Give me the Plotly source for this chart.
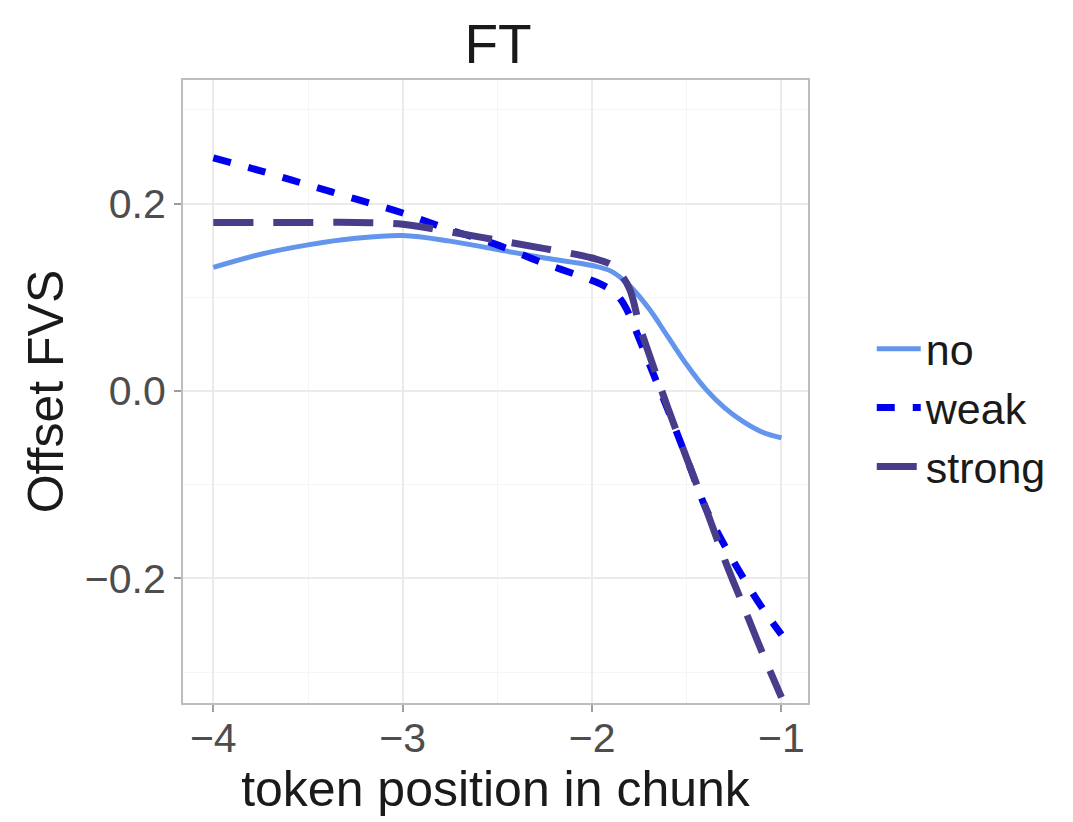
import plotly.graph_objects as go

# values
x_no = [-4.0, -3.75, -3.5, -3.25, -3.0, -2.75, -2.5, -2.25, -2.0, -1.9, -1.8, -1.7, -1.6, -1.5, -1.4, -1.3, -1.2, -1.1, -1.0]
y_no = [0.132, 0.146, 0.156, 0.163, 0.166, 0.160, 0.151, 0.142, 0.134, 0.128, 0.112, 0.088, 0.058, 0.028, 0.002, -0.018, -0.033, -0.044, -0.050]

x_weak = [-4.0, -3.75, -3.5, -3.25, -3.0, -2.75, -2.5, -2.25, -2.0, -1.9, -1.85, -1.8, -1.75, -1.7, -1.6, -1.5, -1.4, -1.3, -1.2, -1.1, -1.0]
y_weak = [0.249, 0.235, 0.220, 0.205, 0.190, 0.172, 0.156, 0.136, 0.118, 0.108, 0.098, 0.080, 0.055, 0.030, -0.020, -0.072, -0.125, -0.165, -0.200, -0.232, -0.260]

x_strong = [-4.0, -3.75, -3.5, -3.25, -3.0, -2.75, -2.5, -2.25, -2.0, -1.9, -1.85, -1.8, -1.75, -1.7, -1.6, -1.5, -1.4, -1.3, -1.2, -1.1, -1.0]
y_strong = [0.180, 0.180, 0.180, 0.180, 0.178, 0.170, 0.161, 0.152, 0.142, 0.135, 0.125, 0.108, 0.070, 0.040, -0.018, -0.072, -0.125, -0.180, -0.230, -0.280, -0.327]

x_ticks = [-4, -3, -2, -1]
x_tick_text = ["\u22124", "\u22123", "\u22122", "\u22121"]
y_ticks = [-0.2, 0.0, 0.2]
y_tick_text = ["\u22120.2", "0.0", "0.2"]

font = "Liberation Sans, Arial, sans-serif"

fig = go.Figure()
fig.add_trace(go.Scatter(x=x_no, y=y_no, mode="lines", name="no", legendgroup="a",
                         line=dict(color="#6495ED", width=5, shape="spline")))
fig.add_trace(go.Scatter(x=x_weak, y=y_weak, mode="lines", name="weak", legendgroup="b",
                         line=dict(color="#0000EE", width=7, dash="18px,18px", shape="spline")))
fig.add_trace(go.Scatter(x=x_strong, y=y_strong, mode="lines", name="strong", legendgroup="c",
                         line=dict(color="#483D8B", width=7, dash="40px,20px", shape="spline")))

fig.update_layout(
    width=1073, height=822,
    margin=dict(l=175, r=273, t=72, b=127),
    paper_bgcolor="white", plot_bgcolor="white",
    font=dict(family=font, color="#1a1a1a"),
    title=dict(text="FT", x=0.4567, xanchor="center", y=0.956, yanchor="middle",
               font=dict(size=55, color="#1a1a1a")),
    legend=dict(x=1.102, y=0.474, xanchor="left", yanchor="middle",
                font=dict(size=43, color="#1a1a1a"), tracegroupgap=0, itemwidth=44,
                traceorder="grouped", bgcolor="rgba(0,0,0,0)"),
    xaxis=dict(range=[-4.16, -0.86], tickvals=x_ticks, ticktext=x_tick_text, automargin=False,
               showgrid=True, gridcolor="#EBEBEB", gridwidth=1.5,
               minor=dict(dtick=0.5, tick0=-4.5, showgrid=True, gridcolor="#F5F5F5", gridwidth=1),
               zeroline=False, showline=True, linecolor="#BDBDBD", linewidth=2, mirror=True,
               ticks="outside", ticklen=7, tickwidth=2, tickcolor="#9E9E9E", ticklabelstandoff=-9,
               tickfont=dict(size=41, color="#4D4D4D"),
               title=dict(text="token position in chunk", font=dict(size=50, color="#1a1a1a"), standoff=4)),
    yaxis=dict(range=[-0.333, 0.332], tickvals=y_ticks, ticktext=y_tick_text, automargin=False,
               showgrid=True, gridcolor="#EBEBEB", gridwidth=1.5,
               minor=dict(dtick=0.1, tick0=-0.3, showgrid=True, gridcolor="#F5F5F5", gridwidth=1),
               zeroline=False, showline=True, linecolor="#BDBDBD", linewidth=2, mirror=True,
               ticks="outside", ticklen=7, tickwidth=2, tickcolor="#9E9E9E",
               tickfont=dict(size=41, color="#4D4D4D"),
               title=dict(text="Offset FVS", font=dict(size=50, color="#1a1a1a"), standoff=5)),
)

fig.write_html("out.html")
